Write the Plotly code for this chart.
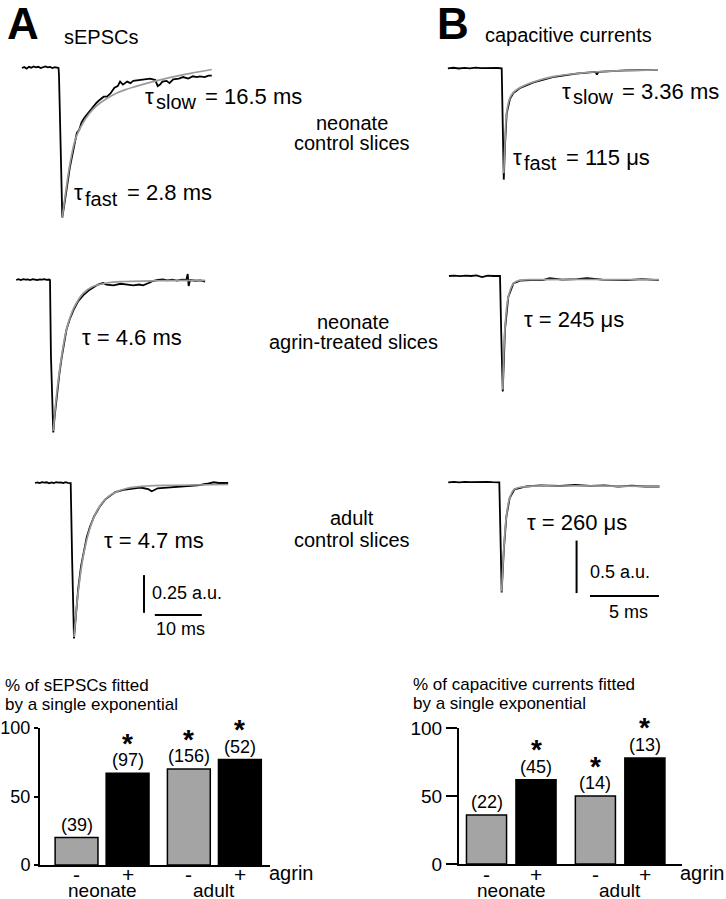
import plotly.graph_objects as go

W, H = 726, 899
FONT = "Liberation Sans, Arial, Helvetica, sans-serif"

# ---- current traces, (time in ms, amplitude in a.u.) ----
sepsc_neo_ctrl = [
    (-7.9, 0.0), (-7.4, 0.006), (-6.9, -0.004), (-6.4, 0.008), (-5.9, 0.002), (-5.4, 0.01),
    (-4.9, 0.004), (-4.4, 0.008), (-3.9, 0.0), (-3.4, 0.006), (-2.9, 0.01), (-2.4, 0.004),
    (-1.9, 0.007), (-1.4, 0.0), (-0.9, 0.005), (-0.4, 0.002), (-0.1, 0.0), (0.0, -0.05),
    (0.35, -0.45), (0.7, -0.99), (1.3, -0.87), (2.3, -0.66), (3.2, -0.52), (3.8, -0.43),
    (4.3, -0.41), (4.8, -0.36), (5.4, -0.33), (5.9, -0.31), (6.5, -0.29), (7.3, -0.25),
    (8.0, -0.23), (8.7, -0.21), (9.5, -0.19), (10.2, -0.19), (10.9, -0.17), (11.8, -0.13),
    (12.5, -0.12), (13.0, -0.09), (13.6, -0.11), (14.5, -0.09), (15.2, -0.10), (15.8, -0.085),
    (16.8, -0.08), (18.0, -0.075), (19.4, -0.07), (20.5, -0.08), (21.0, -0.12), (21.5, -0.11),
    (22.0, -0.09), (22.9, -0.085), (23.5, -0.10), (24.3, -0.075), (25.5, -0.07), (26.4, -0.06),
    (27.5, -0.07), (28.5, -0.055), (29.3, -0.06), (30.0, -0.055), (31.0, -0.06), (31.8, -0.05),
    (32.5, -0.05),
]
sepsc_neo_ctrl_fit = [
    (0.7, -0.99), (1.3, -0.85), (2.3, -0.64), (3.5, -0.47), (5.0, -0.37), (6.5, -0.30),
    (8.0, -0.25), (10.0, -0.205), (12.0, -0.17), (14.0, -0.145), (16.0, -0.125), (20.0, -0.09),
    (24.0, -0.06), (28.0, -0.035), (32.5, -0.01),
]
sepsc_neo_agrin = [
    (-7.2, 0.0), (-6.7, 0.005), (-6.2, 0.0), (-5.7, 0.006), (-5.2, 0.002), (-4.7, 0.004),
    (-4.2, 0.0), (-3.7, 0.005), (-3.2, 0.003), (-2.7, 0.0), (-2.2, 0.004), (-1.7, 0.002),
    (-1.2, 0.006), (-0.7, 0.001), (-0.2, 0.003), (0.0, 0.0), (0.2, -0.5), (0.7, -1.01),
    (1.0, -0.90), (1.4, -0.77), (2.0, -0.62), (2.5, -0.51), (3.0, -0.41), (3.5, -0.33),
    (4.2, -0.26), (5.0, -0.20), (6.0, -0.14), (7.1, -0.10), (8.2, -0.07), (9.2, -0.05),
    (10.2, -0.03), (11.3, -0.02), (12.0, -0.03), (13.5, -0.035), (15.0, -0.025), (16.5, -0.03),
    (17.7, -0.035), (19.0, -0.03), (19.8, -0.035), (21.0, -0.02), (22.0, -0.005), (23.0, 0.0),
    (24.0, 0.004), (25.0, -0.003), (26.0, 0.002), (27.0, -0.004), (28.0, 0.002), (29.0, 0.0),
    (29.3, 0.04), (29.5, -0.04), (29.8, 0.0), (31.0, -0.005), (32.0, -0.002), (33.0, -0.01),
]
sepsc_neo_agrin_fit = [
    (0.7, -1.0), (1.4, -0.76), (2.5, -0.50), (3.5, -0.33), (5.0, -0.19), (7.0, -0.09),
    (9.0, -0.045), (12.0, -0.02), (16.0, -0.01), (22.0, -0.005), (33.0, -0.003),
]
sepsc_adult = [
    (-7.6, 0.0), (-7.1, 0.004), (-6.6, 0.0), (-6.1, 0.006), (-5.6, 0.002), (-5.1, 0.005),
    (-4.6, -0.002), (-4.1, 0.004), (-3.6, 0.0), (-3.1, 0.006), (-2.6, 0.002), (-2.1, 0.004),
    (-1.6, 0.0), (-1.1, 0.005), (-0.6, 0.001), (-0.1, 0.0), (0.0, 0.0), (0.3, -0.5),
    (0.7, -1.03), (1.1, -0.88), (1.6, -0.70), (2.2, -0.55), (2.7, -0.46), (3.4, -0.36),
    (4.1, -0.29), (5.0, -0.22), (6.2, -0.155), (7.3, -0.11), (8.4, -0.085), (9.5, -0.06),
    (11.2, -0.045), (13.0, -0.035), (14.8, -0.03), (16.5, -0.04), (17.2, -0.055), (17.6, -0.05),
    (18.5, -0.035), (20.5, -0.03), (22.5, -0.025), (24.7, -0.02), (27.0, -0.015), (29.0, -0.005),
    (30.4, 0.005), (31.5, 0.0), (32.5, -0.002), (33.5, 0.0),
]
sepsc_adult_fit = [
    (0.7, -1.02), (1.6, -0.72), (2.7, -0.48), (4.1, -0.30), (5.5, -0.19), (7.0, -0.12),
    (9.0, -0.07), (12.0, -0.035), (16.0, -0.02), (22.0, -0.015), (33.5, -0.01),
]
cap_neo_ctrl = [
    (-3.9, 0.0), (-3.5, 0.005), (-3.1, -0.002), (-2.7, 0.004), (-2.3, 0.0), (-1.9, 0.006),
    (-1.5, 0.001), (-1.1, 0.004), (-0.7, 0.0), (-0.3, 0.003), (0.0, 0.0), (0.05, -0.5),
    (0.15, -1.06), (0.24, -0.73), (0.36, -0.43), (0.6, -0.29), (0.85, -0.235), (1.3, -0.19),
    (2.3, -0.135), (3.7, -0.085), (5.4, -0.05), (6.8, -0.035), (6.9, -0.06), (7.0, -0.035),
    (8.0, -0.025), (9.0, -0.02), (10.2, -0.018), (11.3, -0.015),
]
cap_neo_ctrl_fit = [
    (0.15, -1.0), (0.24, -0.70), (0.36, -0.42), (0.6, -0.28), (0.85, -0.23), (1.3, -0.185),
    (2.3, -0.13), (3.7, -0.08), (5.4, -0.05), (7.0, -0.033), (9.0, -0.022), (11.3, -0.015),
]
cap_neo_agrin = [
    (-3.7, 0.0), (-3.3, 0.004), (-2.9, -0.002), (-2.5, 0.003), (-2.1, 0.0), (-1.7, 0.005),
    (-1.3, -0.01), (-0.9, 0.003), (-0.5, 0.0), (-0.2, 0.002), (0.0, 0.0), (0.1, -0.6),
    (0.2, -1.10), (0.36, -0.51), (0.6, -0.20), (0.97, -0.07), (1.45, -0.045), (2.2, -0.04),
    (3.1, -0.04), (3.6, -0.02), (4.5, -0.035), (5.6, -0.03), (6.3, -0.02), (7.4, -0.035),
    (8.3, -0.035), (9.2, -0.04), (10.3, -0.03), (11.5, -0.04),
]
cap_neo_agrin_fit = [
    (0.2, -1.08), (0.36, -0.50), (0.6, -0.20), (0.97, -0.07), (1.45, -0.04), (3.0, -0.035),
    (11.5, -0.035),
]
cap_adult = [
    (-3.7, 0.0), (-3.3, 0.004), (-2.9, 0.0), (-2.5, 0.005), (-2.1, 0.001), (-1.7, 0.004),
    (-1.3, 0.0), (-0.9, 0.005), (-0.5, 0.002), (-0.2, 0.003), (0.0, 0.0), (0.1, -0.6),
    (0.17, -1.05), (0.33, -0.64), (0.51, -0.33), (0.75, -0.15), (1.1, -0.067), (1.95, -0.04),
    (3.0, -0.03), (4.4, -0.035), (5.5, -0.025), (6.6, -0.035), (7.6, -0.03), (8.6, -0.04),
    (9.6, -0.033), (10.6, -0.04), (11.6, -0.04),
]
cap_adult_fit = [
    (0.17, -1.04), (0.33, -0.63), (0.51, -0.33), (0.75, -0.15), (1.1, -0.065), (1.95, -0.04),
    (4.4, -0.035), (11.6, -0.038),
]

# ---- bar charts ----
agrin = ["-", "+", "-", "+"]
groups = ["neonate", "adult"]
bar_pos = [0, 1, 2.2, 3.2]
bar_colors = ["#a4a4a4", "black", "#a4a4a4", "black"]
sepsc_pct = [20, 67, 70, 77]
sepsc_n = ["(39)", "(97)", "(156)", "(52)"]
sepsc_sig = [False, True, True, True]
cap_pct = [36, 62, 50, 78]
cap_n = ["(22)", "(45)", "(14)", "(13)"]
cap_sig = [False, True, True, True]


def px(x):
    return x / W


def py(y):
    return 1 - y / H


fig = go.Figure()
annotations = []
layout = dict(
    width=W, height=H,
    margin=dict(l=0, r=0, t=0, b=0, pad=0),
    paper_bgcolor="white",
    plot_bgcolor="rgba(0,0,0,0)",
    showlegend=False,
    font=dict(family=FONT, color="black"),
)


def label(text, x, y, size=20, xanchor="left", bold=False):
    annotations.append(dict(
        xref="paper", yref="paper", x=px(x), y=py(y),
        text=f"<b>{text}</b>" if bold else text,
        showarrow=False, xanchor=xanchor, yanchor="middle",
        font=dict(size=size, family=FONT, color="black"),
    ))


def tau_label(sub, rest, x, y):
    # tau with a near full-size subscript, as in the original lettering
    label("τ", x, y, 22)
    label(sub, x + 11, y + 6, 20)
    label(rest, x + 13 + (47 if sub == "slow" else 40), y, 22)


# panel boxes in pixels: left, right, top, bottom, onset x, baseline y, px per ms, px per a.u.
panels = [
    (sepsc_neo_ctrl, sepsc_neo_ctrl_fit, 15, 235, 55, 230, 59, 68, 4.7, 151),
    (sepsc_neo_agrin, sepsc_neo_agrin_fit, 10, 235, 265, 440, 50, 280, 4.7, 151),
    (sepsc_adult, sepsc_adult_fit, 25, 240, 465, 640, 70.7, 483, 4.7, 151),
    (cap_neo_ctrl, cap_neo_ctrl_fit, 440, 665, 55, 190, 501.7, 68.3, 13.8, 105),
    (cap_neo_agrin, cap_neo_agrin_fit, 440, 665, 260, 400, 500, 276, 13.8, 105),
    (cap_adult, cap_adult_fit, 440, 665, 465, 620, 499.3, 482.3, 13.8, 105),
]

for i, (data, fit, left, right, top, bottom, t0, base, ppm, ppa) in enumerate(panels, start=1):
    sfx = "" if i == 1 else str(i)
    layout["xaxis" + sfx] = dict(
        domain=[px(left), px(right)], range=[(left - t0) / ppm, (right - t0) / ppm],
        visible=False, fixedrange=True, automargin=False, anchor="y" + sfx,
    )
    layout["yaxis" + sfx] = dict(
        domain=[py(bottom), py(top)], range=[(base - bottom) / ppa, (base - top) / ppa],
        visible=False, fixedrange=True, automargin=False, anchor="x" + sfx,
    )
    t, v = zip(*data)
    fig.add_trace(go.Scatter(x=t, y=v, mode="lines", line=dict(color="black", width=1.8),
                             xaxis="x" + sfx, yaxis="y" + sfx, hoverinfo="skip"))
    ft, fv = zip(*fit)
    fig.add_trace(go.Scatter(x=ft, y=fv, mode="lines",
                             line=dict(color="#9a9a9a", width=1.7, shape="spline"),
                             xaxis="x" + sfx, yaxis="y" + sfx, hoverinfo="skip"))

# scale bars (A in panel 3, B in panel 6)
scale_bars = [
    ("x3", "y3", 15.6, -0.61, 0.25, 17.9, 10, -0.874),
    ("x6", "y6", 5.6, -0.555, 0.5, 6.57, 5, -1.083),
]
for xa, ya, xv, ytop, amp, ts, tl, yh in scale_bars:
    fig.add_trace(go.Scatter(x=[xv, xv], y=[ytop, ytop - amp], mode="lines",
                             line=dict(color="black", width=2), xaxis=xa, yaxis=ya))
    fig.add_trace(go.Scatter(x=[ts, ts + tl], y=[yh, yh], mode="lines",
                             line=dict(color="black", width=2), xaxis=xa, yaxis=ya))

# bar charts
bar_axes = [
    ("7", sepsc_pct, sepsc_n, sepsc_sig, 40, 270, 728, 865, -0.716, 3.79, 4, 18, 0.84),
    ("8", cap_pct, cap_n, cap_sig, 459, 682, 728, 864, -0.556, 3.95, 11, 19, 0.81),
]
for sfx, pct, n, sig, left, right, top, bottom, x0, x1, tlen, tsize, bw in bar_axes:
    layout["xaxis" + sfx] = dict(
        domain=[px(left), px(right)], range=[x0, x1], anchor="y" + sfx,
        showline=True, linecolor="black", linewidth=2, ticks="", showgrid=False,
        zeroline=False, showticklabels=False, fixedrange=True, automargin=False,
    )
    layout["yaxis" + sfx] = dict(
        domain=[py(bottom), py(top)], range=[0, 100], anchor="x" + sfx,
        showline=True, linecolor="black", linewidth=2, ticks="outside", ticklen=tlen,
        tickwidth=2, tickcolor="black", tickvals=[0, 50, 100], tickfont=dict(size=tsize),
        showgrid=False, zeroline=False, fixedrange=True, automargin=False,
    )
    fig.add_trace(go.Bar(
        x=bar_pos, y=pct, width=bw, marker=dict(color=bar_colors, line=dict(color="black", width=1.5)),
        xaxis="x" + sfx, yaxis="y" + sfx, hoverinfo="skip",
    ))
    for p, val, txt, s, a in zip(bar_pos, pct, n, sig, agrin):
        annotations.append(dict(xref="x" + sfx, yref="y" + sfx, x=p, y=val, yshift=13,
                                text=txt, showarrow=False, yanchor="middle",
                                font=dict(size=18, family=FONT)))
        if s:
            annotations.append(dict(xref="x" + sfx, yref="y" + sfx, x=p, y=val, yshift=30,
                                    text="<b>*</b>", showarrow=False, yanchor="middle",
                                    font=dict(size=28, family=FONT)))
        annotations.append(dict(xref="x" + sfx, yref="paper", x=p, y=py(874),
                                text=a, showarrow=False, yanchor="middle",
                                font=dict(size=21, family=FONT)))
    for gi, g in enumerate(groups):
        gx = (bar_pos[2 * gi] + bar_pos[2 * gi + 1]) / 2
        annotations.append(dict(xref="x" + sfx, yref="paper", x=gx, y=py(890),
                                text=g, showarrow=False, yanchor="middle",
                                font=dict(size=19, family=FONT)))

label("agrin", 315, 873, 20, xanchor="right")
label("agrin", 726, 873, 20, xanchor="right")

# titles and labels
label("A", 5, 24, 44, bold=True)
label("sEPSCs", 62, 37, 20)
label("B", 435, 24, 44, bold=True)
label("capacitive currents", 483, 35, 20)

tau_label("slow", "= 16.5 ms", 143, 96)
tau_label("fast", "= 2.8 ms", 72, 193)
label("τ = 4.6 ms", 80, 337, 22)
label("τ = 4.7 ms", 102, 540, 22)
label("0.25 a.u.", 150, 593, 18)
label("10 ms", 180, 629, 18, xanchor="center")

tau_label("slow", "= 3.36 ms", 560, 91)
tau_label("fast", "= 115 μs", 511, 157)
label("τ = 245 μs", 522, 319, 22)
label("τ = 260 μs", 525, 522, 22)
label("0.5 a.u.", 588, 572, 18)
label("5 ms", 628, 612, 18, xanchor="center")

label("neonate", 352, 123, 20, xanchor="center")
label("control slices", 352, 143, 20, xanchor="center")
label("neonate", 353, 322, 20, xanchor="center")
label("agrin-treated slices", 353, 342, 20, xanchor="center")
label("adult", 352, 518, 20, xanchor="center")
label("control slices", 352, 540, 20, xanchor="center")

label("% of sEPSCs fitted", 3, 685, 17)
label("by a single exponential", 3, 704, 17)
label("% of capacitive currents fitted", 411, 684, 17)
label("by a single exponential", 411, 703, 17)

layout["annotations"] = annotations
fig.update_layout(**layout)
# the page body has a default 8px margin; drop it so the figure fills the window
fig.write_html("out.html", config={"displayModeBar": False},
               post_script="document.body.style.margin = '0';")
